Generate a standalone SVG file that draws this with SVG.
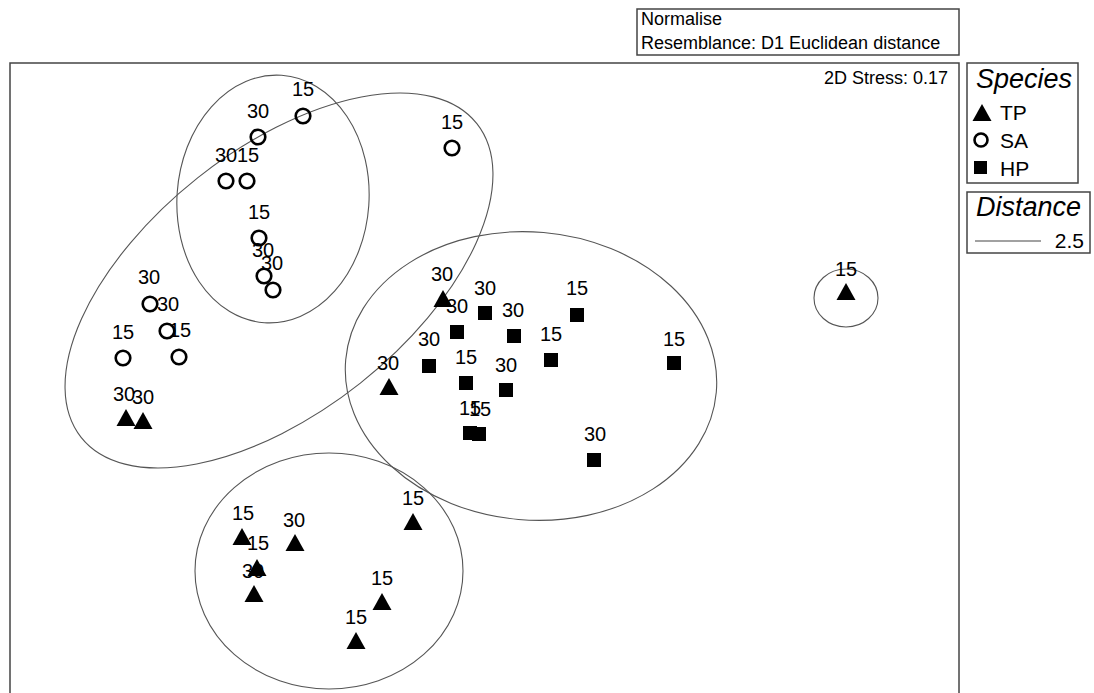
<svg xmlns="http://www.w3.org/2000/svg" width="1094" height="693" viewBox="0 0 1094 693">
<defs>
<style>
text{font-family:"Liberation Sans",Arial,sans-serif;fill:#000}
.lbl{font-size:20px;text-anchor:middle}
.frame{fill:none;stroke:#444;stroke-width:1.5}
.hull{fill:none;stroke:#555;stroke-width:1.1}
.sa{fill:none;stroke:#000;stroke-width:2.6}
.hp{fill:#000}
.ttl{font-size:27px;font-style:italic}
.leg{font-size:21px}
.hdr{font-size:18px}
</style>
<path id="tri" d="M0,-9 L9.5,8 L-9.5,8 Z"/>
</defs>
<rect width="1094" height="693" fill="#fff"/>
<g id="header">
<rect class="frame" x="637" y="9" width="322" height="46"/>
<text class="hdr" x="641" y="25">Normalise</text>
<text class="hdr" x="641" y="49">Resemblance: D1 Euclidean distance</text>
</g>
<g id="plot-frame">
<rect class="frame" x="10" y="63" width="949" height="640"/>
<text x="948" y="84" style="font-size:18px;text-anchor:end">2D Stress: 0.17</text>
</g>
<g id="connectors">
<ellipse class="hull" cx="273" cy="199" rx="96" ry="124" transform="rotate(4 273 199)"/>
<ellipse class="hull" cx="279" cy="280.5" rx="252.5" ry="131" transform="rotate(-38.4 279 280.5)"/>
<ellipse class="hull" cx="531" cy="376" rx="186" ry="144" transform="rotate(5 531 376)"/>
<ellipse class="hull" cx="329" cy="571" rx="134" ry="118"/>
<ellipse class="hull" cx="846" cy="298" rx="32" ry="29"/>
</g>
<g id="SA-points">
<circle class="sa" cx="303" cy="116" r="7.3"/><text class="lbl" x="303" y="96">15</text>
<circle class="sa" cx="258" cy="137" r="7.3"/><text class="lbl" x="258" y="118">30</text>
<circle class="sa" cx="226" cy="181" r="7.3"/><text class="lbl" x="226" y="162">30</text>
<circle class="sa" cx="247" cy="181" r="7.3"/><text class="lbl" x="248" y="162">15</text>
<circle class="sa" cx="259" cy="238" r="7.3"/><text class="lbl" x="259" y="219">15</text>
<circle class="sa" cx="264" cy="276" r="7.3"/><text class="lbl" x="263" y="257">30</text>
<circle class="sa" cx="273" cy="290" r="7.3"/><text class="lbl" x="272" y="270">30</text>
<circle class="sa" cx="452" cy="148" r="7.3"/><text class="lbl" x="452" y="129">15</text>
<circle class="sa" cx="150" cy="304" r="7.3"/><text class="lbl" x="149" y="284">30</text>
<circle class="sa" cx="167" cy="331" r="7.3"/><text class="lbl" x="168" y="311">30</text>
<circle class="sa" cx="123" cy="358" r="7.3"/><text class="lbl" x="123" y="339">15</text>
<circle class="sa" cx="179" cy="357" r="7.3"/><text class="lbl" x="180" y="337">15</text>
</g>
<g id="TP-points">
<use href="#tri" x="126" y="418"/><text class="lbl" x="124" y="401">30</text>
<use href="#tri" x="143" y="421"/><text class="lbl" x="143" y="404">30</text>
<use href="#tri" x="443" y="299"/><text class="lbl" x="442" y="281">30</text>
<use href="#tri" x="389" y="387"/><text class="lbl" x="388" y="370">30</text>
<use href="#tri" x="846" y="292"/><text class="lbl" x="846" y="276">15</text>
<use href="#tri" x="242" y="537"/><text class="lbl" x="243" y="520">15</text>
<use href="#tri" x="295" y="543"/><text class="lbl" x="294" y="527">30</text>
<use href="#tri" x="257" y="568"/><text class="lbl" x="258" y="550">15</text>
<use href="#tri" x="254" y="594"/><text class="lbl" x="253" y="578">30</text>
<use href="#tri" x="413" y="522"/><text class="lbl" x="413" y="505">15</text>
<use href="#tri" x="382" y="602"/><text class="lbl" x="382" y="585">15</text>
<use href="#tri" x="356" y="641"/><text class="lbl" x="356" y="624">15</text>
</g>
<g id="HP-points">
<rect class="hp" x="478" y="306" width="14" height="14"/><text class="lbl" x="485" y="295">30</text>
<rect class="hp" x="450" y="325" width="14" height="14"/><text class="lbl" x="457" y="313">30</text>
<rect class="hp" x="507" y="329" width="14" height="14"/><text class="lbl" x="513" y="317">30</text>
<rect class="hp" x="570" y="308" width="14" height="14"/><text class="lbl" x="577" y="295">15</text>
<rect class="hp" x="422" y="359" width="14" height="14"/><text class="lbl" x="429" y="346">30</text>
<rect class="hp" x="544" y="353" width="14" height="14"/><text class="lbl" x="551" y="341">15</text>
<rect class="hp" x="459" y="376" width="14" height="14"/><text class="lbl" x="466" y="364">15</text>
<rect class="hp" x="499" y="383" width="14" height="14"/><text class="lbl" x="506" y="372">30</text>
<rect class="hp" x="463" y="426" width="14" height="14"/><text class="lbl" x="470" y="415">15</text>
<rect class="hp" x="472" y="427" width="14" height="14"/><text class="lbl" x="480" y="416">15</text>
<rect class="hp" x="587" y="453" width="14" height="14"/><text class="lbl" x="595" y="441">30</text>
<rect class="hp" x="667" y="356" width="14" height="14"/><text class="lbl" x="674" y="346">15</text>
</g>
<g id="legend-species">
<rect class="frame" x="967" y="63" width="111" height="120"/>
<text class="ttl" x="976" y="88">Species</text>
<use href="#tri" x="982" y="113"/><text class="leg" x="1000" y="120">TP</text>
<circle class="sa" cx="981" cy="140" r="6.5"/><text class="leg" x="1000" y="148">SA</text>
<rect x="974" y="161" width="13" height="13"/><text class="leg" x="1000" y="176">HP</text>
</g>
<g id="legend-distance">
<rect class="frame" x="967" y="192" width="123" height="61"/>
<text class="ttl" x="976" y="216">Distance</text>
<line x1="975" y1="241" x2="1041" y2="241" stroke="#444" stroke-width="1.2"/>
<text class="leg" x="1084" y="248" style="text-anchor:end">2.5</text>
</g>
</svg>
